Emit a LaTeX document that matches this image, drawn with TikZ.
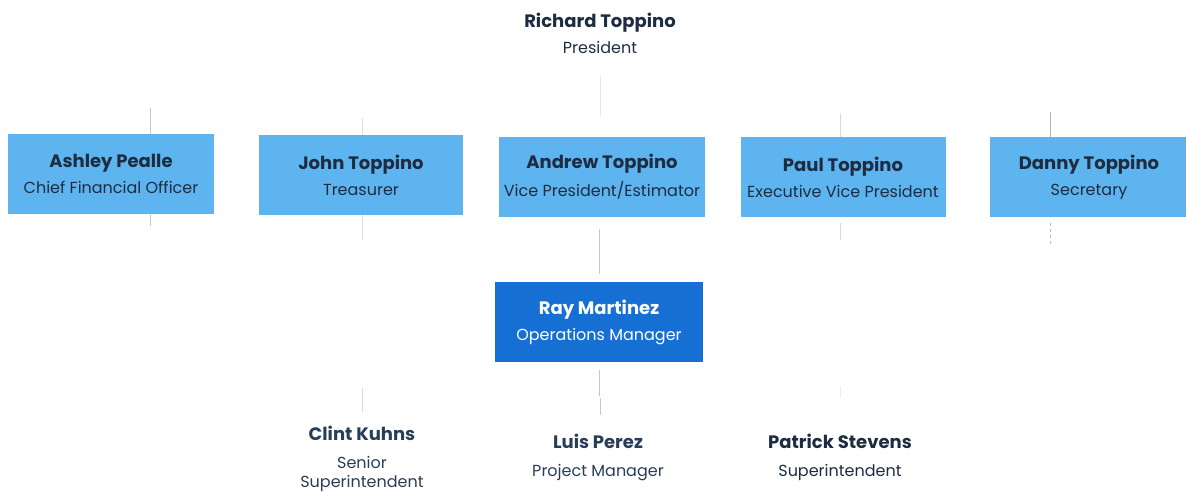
\documentclass[tikz,border=0pt]{standalone}
\usepackage{fontspec}
\setmainfont{Poppins}
\usepackage{tikz}
\usetikzlibrary{positioning}

\definecolor{boxblue}{RGB}{94,180,238}
\definecolor{opsblue}{RGB}{22,112,212}
\definecolor{navy}{RGB}{30,44,66}
\definecolor{slate}{RGB}{40,62,88}
\newcommand{\namefont}{\fontsize{18}{20}\selectfont\bfseries}
\newcommand{\rolefont}{\fontsize{16}{19}\selectfont}

\begin{document}
\begin{tikzpicture}[x=1pt, y=-1pt,
    officer/.style={fill=boxblue, draw=none, minimum width=206pt,
      minimum height=80pt, align=center, text=navy, inner sep=0pt,
      font=\rolefont},
    ops/.style={officer, fill=opsblue, text=white, minimum width=208pt},
    staff/.style={align=center, text=slate, inner sep=0pt, font=\rolefont},
    stub/.style={draw=black!22, line width=1pt}]
  \useasboundingbox (0,0) rectangle (1186,493);
  % --- President ---
  \node[staff, text=navy] (richard) at (600,33)
    {{\namefont Richard Toppino}\\[7pt]President};
  % --- Officers ---
  \node[officer] (ashley) at (111,174)
    {{\namefont Ashley Pealle}\\[7pt]Chief Financial Officer};
  \node[officer, minimum width=204pt] (john) at (361,175)
    {{\namefont John Toppino}\\[7pt]Treasurer};
  \node[officer] (andrew) at (602,177)
    {{\namefont Andrew Toppino}\\[7pt]Vice President/Estimator};
  \node[officer, minimum width=205pt] (paul) at (843,177)
    {{\namefont Paul Toppino}\\[7pt]Executive Vice President};
  \node[officer, minimum width=198pt] (danny) at (1089,177)
    {{\namefont Danny Toppino}\\[7pt]Secretary};
  % --- Operations ---
  \node[ops] (ray) at (599,322)
    {{\namefont Ray Martinez}\\[7pt]Operations Manager};
  % --- Field staff ---
  \node[staff] (clint) at (362,459)
    {{\namefont Clint Kuhns}\\[9pt]Senior\\Superintendent};
  \node[staff] (luis) at (598,457)
    {{\namefont Luis Perez}\\[9pt]Project Manager};
  \node[staff, text=navy] (patrick) at (840,457)
    {{\namefont Patrick Stevens}\\[9pt]Superintendent};
  % faint connector stubs
  \coordinate (a1) at (150,108); \coordinate (a2) at (150,226);
  \coordinate (j1) at (362,118); \coordinate (j2) at (362,240);
  \coordinate (r1) at (600,76);
  \coordinate (p1) at (840,114); \coordinate (p2) at (840,240);
  \coordinate (d1) at (1050,112); \coordinate (d2) at (1050,246);
  \coordinate (c1) at (362,388); \coordinate (l1) at (600,398);
  \coordinate (s1) at (840,386);
  \draw[stub] (a1) -- (a1 |- ashley.north);
  \draw[stub] (ashley.south -| a2) -- (a2);
  \draw[stub, draw=black!12] (j1) -- (j1 |- john.north);
  \draw[stub, draw=black!12] (john.south -| j2) -- (j2);
  \draw[stub, draw=black!10] (r1) -- ++(0,40);
  \draw[stub] (andrew.south -| ray.north) ++(0,12) -- ++(0,45);
  \draw[stub] (ray.south) ++(0,8) -- ++(0,26);
  \draw[stub] (l1) -- ++(0,17);
  \draw[stub, draw=black!15] (c1) -- ++(0,24);
  \draw[stub, draw=black!15] (p1) -- (p1 |- paul.north);
  \draw[stub, draw=black!15] (paul.south -| p2) ++(0,6) -- (p2);
  \draw[stub, draw=black!8] (s1) -- ++(0,12);
  \draw[stub, draw=black!30] (d1) -- (d1 |- danny.north);
  \draw[stub, draw=black!25, dashed] (danny.south -| d2) ++(0,6) -- (d2);
\end{tikzpicture}
\end{document}
